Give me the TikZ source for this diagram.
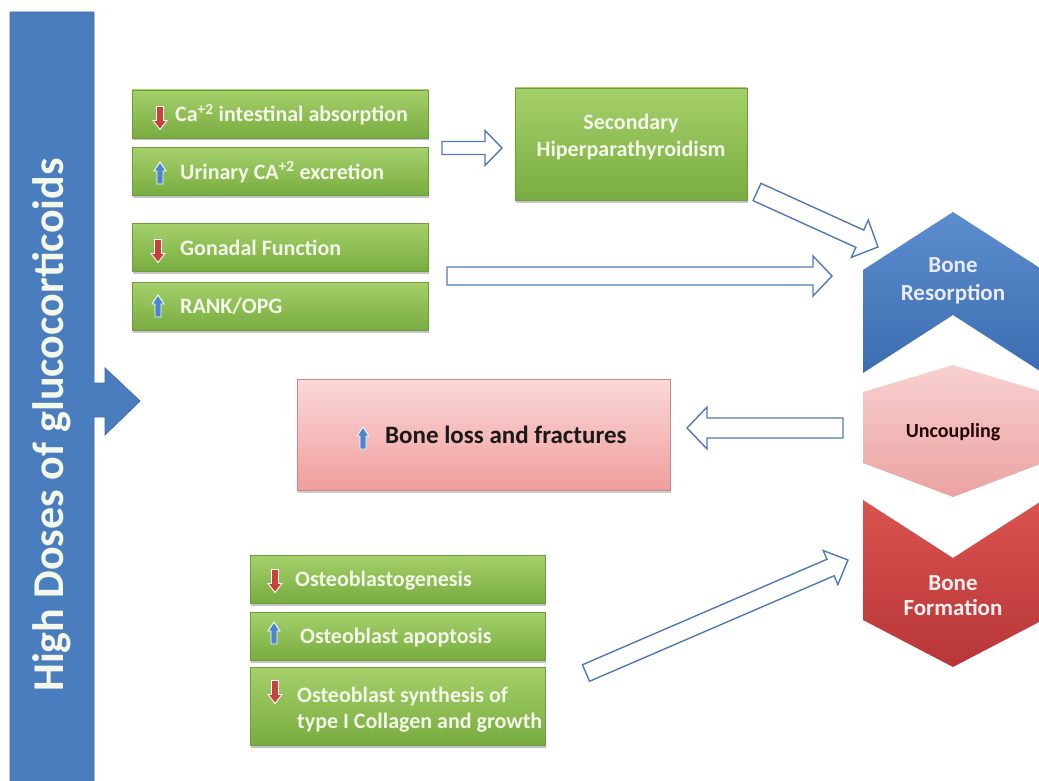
\documentclass[tikz,border=0pt]{standalone}
\usepackage{fontspec}
\setmainfont{Carlito}
\usetikzlibrary{calc,shadows}

\definecolor{barblue}{HTML}{4A7DBE}
\definecolor{baredge}{HTML}{3E6CA8}
\definecolor{greentop}{HTML}{A6D06A}
\definecolor{greenbot}{HTML}{78AC40}
\definecolor{greenedge}{HTML}{6E9E3C}
\definecolor{gtextcol}{HTML}{F4F8EA}
\definecolor{arrowblue}{HTML}{4F79B8}
\definecolor{icred}{HTML}{C9413F}
\definecolor{icblue}{HTML}{4A86CF}
\definecolor{restop}{HTML}{5B8DCF}
\definecolor{resbot}{HTML}{3C6DB0}
\definecolor{pinktop}{HTML}{F8D0D0}
\definecolor{pinkbot}{HTML}{EBA2A2}
\definecolor{redtop}{HTML}{D9534F}
\definecolor{redbot}{HTML}{B83638}
\definecolor{losstop}{HTML}{FBD8D8}
\definecolor{lossbot}{HTML}{F09E9E}

% block arrow with an open (white) body: start, end, shaft half width, head half width, head length
\newcommand\hollowarrow[5]{%
  \coordinate (ha-b) at ($(#2)!#5!(#1)$);
  \draw[harrow] ($(#1)!#3!90:(#2)$) -- ($(ha-b)!#3!-90:(#1)$) -- ($(ha-b)!#4!-90:(#1)$)
    -- (#2) -- ($(ha-b)!#4!90:(#1)$) -- ($(ha-b)!#3!90:(#1)$) -- ($(#1)!#3!-90:(#2)$) -- cycle;
}

\tikzset{
  harrow/.style={draw=arrowblue, line width=1.4pt, fill=white, line join=miter},
  gbox/.style={rectangle, top color=greentop, bottom color=greenbot, draw=greenedge,
    line width=0.6pt, inner sep=0pt, minimum width=296pt, minimum height=48pt,
    drop shadow={shadow xshift=1pt, shadow yshift=-2.5pt, opacity=0.45}},
  gtext/.style={text=gtextcol, font=\fontsize{22}{26}\selectfont\bfseries, inner sep=0pt},
  chevtext/.style={font=\fontsize{23}{28}\selectfont\bfseries, align=center, inner sep=0pt},
  downicon/.pic={\filldraw[fill=icred, draw=white, line width=0.9pt]
    (-3.5,-11.5) -- (3.5,-11.5) -- (3.5,2.5) -- (7,2.5) -- (0,11.5) -- (-7,2.5) -- (-3.5,2.5) -- cycle;},
  upicon/.pic={\filldraw[fill=icblue, draw=white, line width=0.9pt]
    (-3,11) -- (3,11) -- (3,-2) -- (6,-2) -- (0,-11) -- (-6,-2) -- (-3,-2) -- cycle;}
}

\begin{document}
\begin{tikzpicture}[x=1pt, y=-1pt]
\useasboundingbox (0,0) rectangle (1039,781);
\fill[white] (0,0) rectangle (1039,781);

% vertical bar with its arrow
\filldraw[fill=barblue, draw=baredge, line width=0.8pt]
  (10,12) -- (94,12) -- (94,383) -- (105,383) -- (105,368) -- (140,401)
  -- (105,435) -- (105,417) -- (94,417) -- (94,790) -- (10,790) -- cycle;
\node[rotate=90, text=gtextcol, font=\fontsize{44}{50}\selectfont\bfseries] (hd) at (52,425)
  {High Doses of glucocorticoids};

% green cause boxes, upper group
\node[gbox] (ca) at (280,114) {};
\node[gbox] (ur) at (280,171.5) {};
\node[gbox] (gon) at (280,247.5) {};
\node[gbox] (rank) at (280,306) {};
\pic at (160,118) {downicon};
\pic at (160,173) {upicon};
\pic at (158,251) {downicon};
\pic at (158,306) {upicon};
\node[gtext, anchor=base west] (cat) at (175,122) {Ca\textsuperscript{+2} intestinal absorption};
\node[gtext, anchor=base west] (urt) at (180,179) {Urinary CA\textsuperscript{+2} excretion};
\node[gtext, anchor=base west] (gont) at (180,255) {Gonadal Function};
\node[gtext, anchor=base west] (rankt) at (180,313) {RANK/OPG};

% secondary hyperparathyroidism
\node[gbox, minimum width=232pt, minimum height=112pt] (sec) at (631,144) {};
\node[gtext, align=center, font=\fontsize{22}{27}\selectfont\bfseries] (sect) at (631,137)
  {Secondary\\Hiperparathyroidism};

% green cause boxes, lower group
\node[gbox, minimum width=295pt] (ob1) at (397.5,579) {};
\node[gbox, minimum width=295pt] (ob2) at (397.5,636) {};
\node[gbox, minimum width=295pt, minimum height=78pt] (ob3) at (397.5,706) {};
\pic at (275,581) {downicon};
\pic at (274,633) {upicon};
\pic at (275,692) {downicon};
\node[gtext, anchor=base west] (ob1t) at (295,586) {Osteoblastogenesis};
\node[gtext, anchor=base west] (ob2t) at (300,643) {Osteoblast apoptosis};
\node[gtext, anchor=west, align=left] (ob3t) at (297,710)
  {Osteoblast synthesis of\\type I Collagen and growth};

% bone loss box
\node[rectangle, top color=losstop, bottom color=lossbot, draw=lossbot!85!black, line width=0.5pt,
  minimum width=373pt, minimum height=111pt, inner sep=0pt,
  drop shadow={shadow xshift=1pt, shadow yshift=-2.5pt, opacity=0.4}] (loss) at (483.5,434.5) {};
\pic at (363,438) {upicon};
\node[anchor=base west, inner sep=0pt, font=\fontsize{25}{30}\selectfont\bfseries, text=black!90] (losst)
  at (385,443) {Bone loss and fractures};

% right-hand chevrons
\shade[top color=restop, bottom color=resbot]
  (863,270) -- (953,212) -- (1043,270) -- (1043,373) -- (953,315) -- (863,373) -- cycle;
\shade[top color=pinktop, bottom color=pinkbot]
  (863,392) -- (953,365) -- (1043,392) -- (1043,463) -- (953,497) -- (863,463) -- cycle;
\shade[top color=redtop, bottom color=redbot]
  (863,500) -- (953,558) -- (1043,500) -- (1043,620) -- (953,667) -- (863,620) -- cycle;
\node[chevtext, text=blue!8!white] (res) at (953,281) {Bone\\Resorption};
\node[chevtext, font=\fontsize{20}{24}\selectfont\bfseries, text=black!85!red] (unc) at (953,432) {Uncoupling};
\node[chevtext, font=\fontsize{23}{25}\selectfont\bfseries, text=red!6!white] (form) at (953,596) {Bone\\Formation};

% open block arrows
\coordinate (a1s) at (442,148);  \coordinate (a1e) at (502,148);
\coordinate (a2s) at (447,276);  \coordinate (a2e) at (832,276);
\coordinate (a3s) at (757,192);  \coordinate (a3e) at (878,247);
\coordinate (a4s) at (843,428);  \coordinate (a4e) at (687,428);
\coordinate (a5s) at (586,673);  \coordinate (a5e) at (848,560);
\hollowarrow{a1s}{a1e}{6.5pt}{17.5pt}{17pt}
\hollowarrow{a2s}{a2e}{9pt}{20pt}{19pt}
\hollowarrow{a3s}{a3e}{9.5pt}{20.5pt}{20pt}
\hollowarrow{a4s}{a4e}{10pt}{21pt}{20pt}
\hollowarrow{a5s}{a5e}{9pt}{18.5pt}{19pt}
\end{tikzpicture}
\end{document}
